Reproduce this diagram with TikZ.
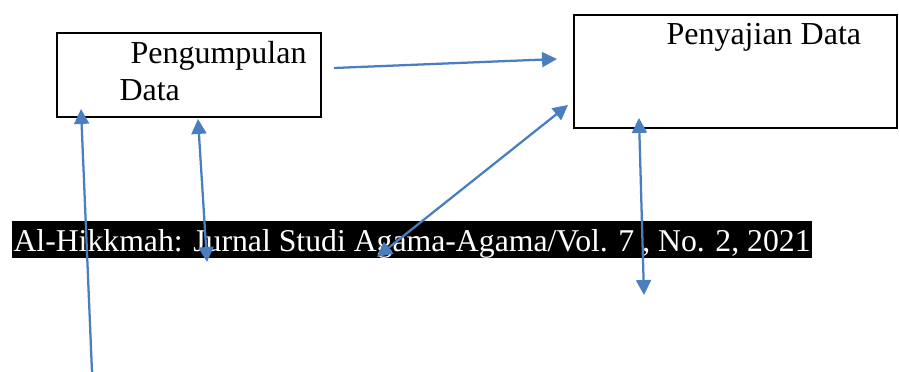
\documentclass[tikz,border=0pt]{standalone}
\usepackage{fontspec}
\setmainfont{Liberation Serif}
\usetikzlibrary{arrows.meta}
\definecolor{flowblue}{RGB}{74,126,190}

\tikzset{
  databox/.style={draw, line width=0.75pt, inner sep=0pt},
  flow/.style={draw=flowblue, line width=0.85pt, -{Triangle[length=5.6pt,width=5.6pt]}},
  flowboth/.style={draw=flowblue, line width=0.85pt, {Triangle[length=5.6pt,width=5.6pt]}-{Triangle[length=5.6pt,width=5.6pt]}},
  boxtext/.style={font=\fontsize{12}{14}\selectfont, inner sep=0pt, anchor=base west}
}

\begin{document}
\begin{tikzpicture}[x=0.375pt,y=-0.375pt]
		\useasboundingbox (0,0) rectangle (899,372);
		% the two boxes
		\node[databox, minimum width=99pt, minimum height=31.5pt] (kumpul) at (189,75) {};
		\node[databox, minimum width=121.1pt, minimum height=42.4pt] (saji) at (735.5,71.5) {};
		\node[boxtext] (kumpulA) at (130,63) {Pengumpulan};
		\node[boxtext] (kumpulB) at (119,100) {Data};
		\node[boxtext] (sajiA) at (666,44) {Penyajian Data};
		% journal strip
		\fill (12,221) rectangle (812,258);
		\node[boxtext, text=white, font=\fontsize{11.9}{14}\selectfont] (jurnal) at (13,251) {Al-Hikkmah: Jurnal Studi Agama-Agama/Vol. 7 , No. 2, 2021};
		% arrow end points
		\coordinate (a1) at (334,68);
		\coordinate (b1) at (557,59);
		\coordinate (a2) at (377,257);
		\coordinate (b2) at (568,105);
		\coordinate (a3) at (92,372);
		\coordinate (b3) at (81,109);
		\coordinate (a4) at (207,262);
		\coordinate (b4) at (198,119);
		\coordinate (a5) at (644,295);
		\coordinate (b5) at (639,118);
		\draw[flow] (a1) -- (b1);
		\draw[flowboth] (a2) -- (b2);
		\draw[flow] (a3) -- (b3);
		\draw[flowboth] (a4) -- (b4);
		\draw[flowboth] (a5) -- (b5);
	\end{tikzpicture}
\end{document}
